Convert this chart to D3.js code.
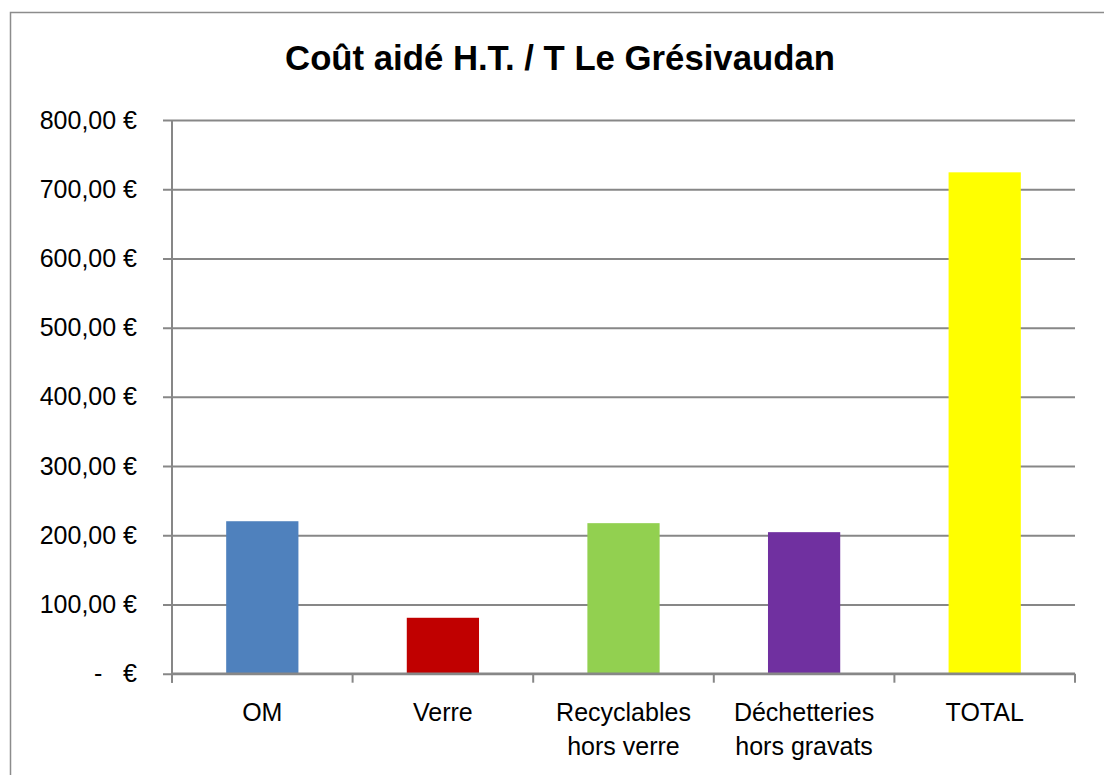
<!DOCTYPE html>
<html>
<head>
<meta charset="utf-8">
<script src="https://cdn.jsdelivr.net/npm/d3@7"></script>
<style>
  body { margin: 0; background: #fff; }
  svg { display: block; }
</style>
</head>
<body>
<script>
'use strict';

// chart data
const categories = ["OM", "Verre", "Recyclables\nhors verre", "Déchetteries\nhors gravats", "TOTAL"];
const costs = [220.3, 80.8, 217.5, 204.5, 724.4];
const barColors = ["#4F81BD", "#C00000", "#92D050", "#7030A0", "#FFFF00"];
const yTicks = [0, 100, 200, 300, 400, 500, 600, 700, 800];
const title = "Coût aidé H.T. / T Le Grésivaudan";

const width = 1104, height = 775;
const plot = { left: 172, right: 1075, top: 120, bottom: 673.7 };
const axisColor = "#878787";
const font = "'Liberation Sans', Arial, sans-serif";

const svg = d3.select("body").append("svg")
  .attr("width", width)
  .attr("height", height);

// outer chart border (runs off the right and bottom edges)
svg.append("rect")
  .attr("x", 10.5).attr("y", 12.5)
  .attr("width", 1110).attr("height", 780)
  .attr("fill", "#fff")
  .attr("stroke", "#8c8c8c")
  .attr("stroke-width", 1.5);

// scales
const x = d3.scaleBand()
  .domain(categories)
  .range([plot.left, plot.right])
  .paddingInner(0.6)
  .paddingOuter(0.3);

const y = d3.scaleLinear()
  .domain([0, 800])
  .range([plot.bottom, plot.top]);

// gridlines + y axis
const yAxis = d3.axisLeft(y)
  .tickValues(yTicks)
  .tickSize(-(plot.right - plot.left))
  .tickPadding(35)
  .tickFormat(d => d === 0 ? "-   €" : d3.format(".2f")(d).replace(".", ",") + " €");

const gy = svg.append("g")
  .attr("transform", `translate(${plot.left},0)`)
  .call(yAxis);
gy.select(".domain").remove();
gy.selectAll(".tick line")
  .attr("x1", -9)
  .attr("stroke", axisColor)
  .attr("stroke-width", 2);
gy.selectAll(".tick text")
  .attr("fill", "#000")
  .style("font-family", font)
  .style("font-size", "25px")
  .style("white-space", "pre");

// vertical axis line
svg.append("line")
  .attr("x1", plot.left).attr("x2", plot.left)
  .attr("y1", plot.top).attr("y2", plot.bottom + 9)
  .attr("stroke", axisColor)
  .attr("stroke-width", 2);

// bars
svg.selectAll(".bar")
  .data(categories)
  .enter()
  .append("rect")
    .attr("class", "bar")
    .attr("x", d => x(d))
    .attr("width", x.bandwidth())
    .attr("y", (d, i) => y(costs[i]))
    .attr("height", (d, i) => y(0) - y(costs[i]))
    .attr("fill", (d, i) => barColors[i]);

// x axis baseline and ticks at the band edges
svg.append("line")
  .attr("x1", plot.left).attr("x2", plot.right)
  .attr("y1", y(0)).attr("y2", y(0))
  .attr("stroke", axisColor)
  .attr("stroke-width", 2.5);

const step = x.step();
const edges = d3.range(categories.length + 1).map(i => plot.left + i * step);
svg.selectAll(".xtick")
  .data(edges)
  .enter()
  .append("line")
    .attr("class", "xtick")
    .attr("x1", d => d).attr("x2", d => d)
    .attr("y1", y(0)).attr("y2", y(0) + 9)
    .attr("stroke", axisColor)
    .attr("stroke-width", 2);

// category labels (two lines where needed)
const labels = svg.selectAll(".xlabel")
  .data(categories)
  .enter()
  .append("text")
    .attr("class", "xlabel")
    .attr("text-anchor", "middle")
    .style("font-family", font)
    .style("font-size", "25px")
    .attr("fill", "#000");

labels.each(function(d) {
  const cx = x(d) + x.bandwidth() / 2;
  d.split("\n").forEach((line, i) => {
    d3.select(this).append("tspan")
      .attr("x", cx)
      .attr("y", 721 + i * 34)
      .text(line);
  });
});

// title
const t = svg.append("text")
  .attr("x", 560)
  .attr("y", 70)
  .attr("text-anchor", "middle")
  .style("font-family", font)
  .style("font-weight", "bold")
  .style("font-size", "36px")
  .attr("fill", "#000")
  .text(title);

// shrink title to the width it has in the reference
const tw = t.node().getComputedTextLength();
if (tw > 550) t.style("font-size", (36 * 550 / tw) + "px");
</script>
</body>
</html>
